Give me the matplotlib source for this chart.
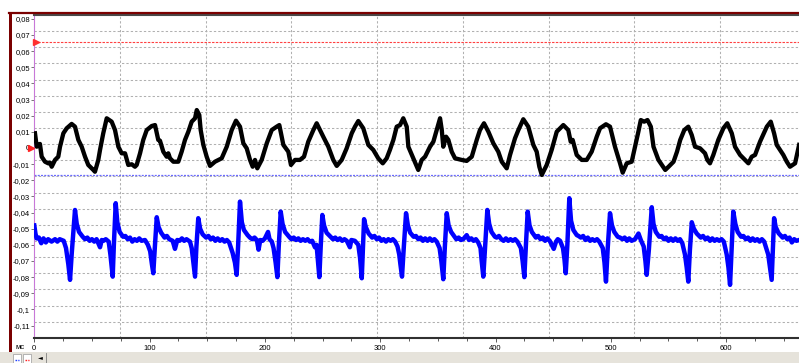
import matplotlib
matplotlib.use("Agg")
import matplotlib.pyplot as plt
from matplotlib.lines import Line2D
from matplotlib.patches import Rectangle
import numpy as np

plt.rcParams['font.family'] = ['Liberation Sans', 'DejaVu Sans']

# black channel (ms, value)
black_trace = [
    (0.6, 0.0091), (2.1, 0.0008), (4.9, 0.0025), (6.4, -0.0054), (9.3, -0.0085),
    (12.1, -0.0095), (13.6, -0.0091), (15.1, -0.0116), (18.0, -0.0074), (20.8, -0.0054),
    (22.3, 0.0008), (25.2, 0.0091), (28.1, 0.0122), (32.4, 0.0149), (35.3, 0.0132),
    (38.2, 0.0050), (41.1, 0.0008), (44.0, -0.0054), (46.8, -0.0105), (51.2, -0.0136),
    (52.6, -0.0147), (55.5, -0.0074), (57.0, -0.0012), (59.8, 0.0091), (62.8, 0.0184),
    (67.1, 0.0163), (70.0, 0.0111), (72.9, 0.0008), (75.8, -0.0033), (78.7, -0.0033),
    (81.5, -0.0105), (84.5, -0.0101), (87.3, -0.0116), (88.8, -0.0105), (91.7, -0.0033),
    (94.5, 0.0050), (97.5, 0.0111), (101.8, 0.0136), (104.7, 0.0142), (107.5, 0.0050),
    (109.0, 0.0045), (111.9, -0.0023), (114.8, -0.0054), (116.2, -0.0033), (117.7, -0.0064),
    (120.6, -0.0085), (124.9, -0.0085), (127.8, -0.0023), (130.7, 0.0050), (133.6, 0.0101),
    (136.5, 0.0163), (139.4, 0.0184), (140.9, 0.0235), (143.1, 0.0204), (144.3, 0.0111),
    (146.6, 0.0019), (149.5, -0.0054), (152.4, -0.0111), (156.7, -0.0085), (162.5, -0.0064),
    (166.9, 0.0008), (171.2, 0.0111), (174.9, 0.0169), (178.4, 0.0132), (181.3, 0.0029),
    (184.2, -0.0002), (187.1, -0.0074), (189.4, -0.0116), (191.4, -0.0074), (193.4, -0.0126),
    (197.2, -0.0074), (201.6, 0.0029), (205.9, 0.0111), (210.2, 0.0132), (212.5, 0.0142),
    (216.0, 0.0019), (220.3, -0.0023), (222.6, -0.0105), (226.1, -0.0074), (230.4, -0.0074),
    (233.9, -0.0054), (237.6, 0.0039), (242.0, 0.0111), (244.9, 0.0153), (250.6, 0.0070),
    (255.0, 0.0008), (259.3, -0.0074), (262.3, -0.0111), (266.6, -0.0074), (270.9, -0.0002),
    (275.3, 0.0091), (278.1, 0.0132), (281.0, 0.0167), (285.3, 0.0122), (289.7, 0.0019),
    (294.0, -0.0012), (298.3, -0.0064), (302.2, -0.0095), (305.6, -0.0064), (308.4, -0.0012),
    (311.4, 0.0050), (314.3, 0.0132), (317.2, 0.0142), (320.0, 0.0184), (323.0, 0.0132),
    (324.4, 0.0008), (328.7, -0.0064), (333.0, -0.0136), (336.0, -0.0074), (338.9, -0.0054),
    (343.2, 0.0008), (346.1, 0.0039), (349.0, 0.0111), (351.9, 0.0184), (353.4, 0.0111),
    (354.7, 0.0008), (357.1, 0.0070), (359.1, 0.0050), (362.0, -0.0023), (364.9, -0.0064),
    (370.7, -0.0074), (375.0, -0.0080), (379.4, -0.0054), (383.7, 0.0050), (386.5, 0.0111),
    (390.0, 0.0153), (393.8, 0.0101), (398.1, 0.0029), (402.4, -0.0023), (405.4, -0.0085),
    (409.7, -0.0126), (412.6, -0.0043), (416.9, 0.0060), (419.8, 0.0111), (424.1, 0.0178),
    (428.4, 0.0132), (432.8, 0.0019), (435.7, -0.0023), (438.0, -0.0116), (440.1, -0.0167),
    (444.4, -0.0105), (448.7, -0.0012), (453.1, 0.0101), (458.8, 0.0142), (463.1, 0.0111),
    (465.2, 0.0039), (466.9, 0.0050), (470.4, -0.0043), (474.8, -0.0074), (479.1, -0.0074),
    (483.4, -0.0023), (487.8, 0.0070), (490.6, 0.0122), (495.8, 0.0147), (499.3, 0.0132),
    (503.6, 0.0008), (508.0, -0.0095), (510.3, -0.0153), (513.8, -0.0095), (518.1, -0.0085),
    (521.0, 0.0008), (523.9, 0.0101), (526.0, 0.0173), (528.9, 0.0163), (531.8, 0.0173),
    (534.7, 0.0132), (537.0, 0.0008), (541.3, -0.0074), (544.3, -0.0105), (547.2, -0.0136),
    (550.1, -0.0116), (554.4, -0.0085), (557.4, -0.0023), (560.2, 0.0050), (563.7, 0.0111),
    (567.2, 0.0132), (570.2, 0.0080), (573.0, 0.0008), (577.4, -0.0002), (581.7, -0.0033),
    (583.7, -0.0074), (586.0, -0.0095), (588.9, -0.0043), (593.2, 0.0050), (597.6, 0.0122),
    (601.0, 0.0153), (604.9, 0.0091), (607.7, 0.0008), (612.1, -0.0043), (616.4, -0.0074),
    (619.3, -0.0095), (622.2, -0.0054), (625.1, -0.0043), (629.4, 0.0039), (635.3, 0.0132),
    (638.7, 0.0163), (641.6, 0.0091), (643.9, 0.0019), (649.6, -0.0043), (652.6, -0.0085),
    (655.4, -0.0116), (659.8, -0.0095), (663.3, 0.0019),
]

# blue channel (ms, value)
blue_trace = [
    (0.0, -0.048), (1.0, -0.053), (2.0, -0.056), (4.0, -0.0555), (6.0, -0.059), (8.0, -0.056),
    (10.0, -0.0585), (12.0, -0.0565), (15.0, -0.058), (18.0, -0.0565), (20.0, -0.058),
    (22.0, -0.0565), (25.5, -0.0575),
    (27.5, -0.062), (29.5, -0.072), (31.0, -0.0817), (32.5, -0.065), (35.3, -0.0384),
    (36.8, -0.047), (38.8, -0.052), (42.0, -0.055), (44.0, -0.0565), (46.0, -0.0555),
    (48.0, -0.0575), (50.0, -0.0565), (52.0, -0.058), (54.0, -0.0565), (57.0, -0.0615),
    (58.5, -0.057), (60.0, -0.0575), (62.0, -0.0565), (64.5, -0.058),
    (66.0, -0.066), (67.0, -0.073), (68.0, -0.0797), (69.0, -0.060), (70.6, -0.0342),
    (72.0, -0.046), (74.0, -0.052), (77.0, -0.055), (79.0, -0.0545), (81.0, -0.0565),
    (83.0, -0.0555), (85.0, -0.058), (87.0, -0.0565), (89.0, -0.0575), (91.0, -0.056),
    (93.0, -0.0575), (96.0, -0.057), (98.5, -0.060), (100.5, -0.064),
    (102.0, -0.072), (103.2, -0.0776), (104.5, -0.062), (106.2, -0.0429), (107.8, -0.049),
    (110.0, -0.0525), (113.0, -0.0555), (115.0, -0.0545), (117.0, -0.0565), (120.0, -0.0575),
    (122.0, -0.0625), (124.0, -0.057), (126.0, -0.0575), (128.0, -0.056), (130.0, -0.0575),
    (132.0, -0.0565), (135.0, -0.058), (136.5, -0.062),
    (138.0, -0.071), (139.4, -0.0797), (140.6, -0.061), (142.2, -0.0435), (143.8, -0.050),
    (146.0, -0.0535), (149.0, -0.0555), (151.0, -0.0545), (153.0, -0.0565), (155.0, -0.0555),
    (157.0, -0.0575), (159.0, -0.056), (161.0, -0.0575), (163.0, -0.0565), (165.0, -0.058),
    (167.0, -0.057), (169.0, -0.0585), (172.0, -0.065), (174.0, -0.071), (175.5, -0.0786),
    (176.8, -0.060), (178.4, -0.0332), (180.0, -0.046), (181.8, -0.0508), (185.0, -0.054),
    (187.0, -0.0555), (189.0, -0.0565), (191.0, -0.0555), (193.0, -0.057), (194.5, -0.063),
    (196.0, -0.057), (198.0, -0.0575), (200.0, -0.056), (202.7, -0.052), (204.0, -0.0565),
    (206.0, -0.058), (207.5, -0.062), (209.3, -0.071),
    (210.8, -0.080), (212.0, -0.061), (213.7, -0.0394), (215.3, -0.047), (217.5, -0.052),
    (221.0, -0.055), (223.0, -0.0565), (225.0, -0.0555), (227.0, -0.057), (229.0, -0.056),
    (231.0, -0.0575), (233.0, -0.0565), (235.0, -0.0575), (237.0, -0.0565), (239.0, -0.058),
    (241.0, -0.0575), (243.4, -0.0615), (244.8, -0.060), (246.0, -0.070), (247.2, -0.080),
    (248.4, -0.061), (249.8, -0.0415), (251.3, -0.048), (253.5, -0.0525), (257.0, -0.055),
    (259.0, -0.0565), (261.0, -0.0555), (263.0, -0.057), (265.0, -0.056), (267.0, -0.0575),
    (269.0, -0.0565), (271.0, -0.0575), (273.7, -0.0615), (275.0, -0.057),
    (278.0, -0.0575), (281.0, -0.060), (282.5, -0.068), (284.0, -0.0807), (285.0, -0.062),
    (286.0, -0.0441), (287.5, -0.049), (290.0, -0.053), (293.0, -0.0555), (295.0, -0.0545),
    (297.0, -0.0565), (299.0, -0.0555), (301.0, -0.0575), (303.0, -0.0565), (305.0, -0.058),
    (307.0, -0.0565), (309.0, -0.0575), (311.0, -0.0565), (313.0, -0.058), (315.0, -0.061),
    (316.5, -0.066), (317.5, -0.072), (318.9, -0.0797), (320.5, -0.061), (322.4, -0.0404),
    (324.0, -0.048), (326.0, -0.0525), (329.0, -0.055), (331.0, -0.0545), (333.0, -0.0565),
    (335.0, -0.0555), (337.0, -0.0575), (339.0, -0.056), (341.0, -0.0575), (343.0, -0.056),
    (345.0, -0.0575), (347.0, -0.0565), (349.0, -0.058), (351.5, -0.062), (353.0, -0.070),
    (354.7, -0.0813), (356.0, -0.062), (357.7, -0.0404), (359.3, -0.048), (361.5, -0.052),
    (364.5, -0.055), (366.0, -0.0565), (368.0, -0.0555), (370.0, -0.057), (372.0, -0.0565),
    (375.0, -0.054), (377.0, -0.057), (379.0, -0.056),
    (381.0, -0.0575), (383.0, -0.0565), (385.0, -0.0585), (387.0, -0.062), (388.0, -0.070),
    (389.4, -0.0797), (391.0, -0.061), (392.9, -0.0384), (394.5, -0.047), (396.5, -0.052),
    (399.5, -0.055), (401.0, -0.0555), (403.0, -0.0545), (405.0, -0.0565), (407.0, -0.0575),
    (409.0, -0.056), (411.0, -0.0575), (413.0, -0.0565), (415.0, -0.0575), (417.0, -0.0565),
    (419.0, -0.058), (422.0, -0.062), (423.5, -0.070), (425.0, -0.080), (426.3, -0.061),
    (427.9, -0.0394), (429.5, -0.048), (431.5, -0.052), (435.0, -0.0555), (437.0, -0.0545),
    (439.0, -0.0565), (441.0, -0.0555), (443.0, -0.0575), (445.0, -0.056), (447.0, -0.0575),
    (450.5, -0.0625), (452.5, -0.058), (454.0, -0.0565), (456.0, -0.0575), (458.5, -0.062),
    (459.8, -0.069), (460.9, -0.0776), (462.3, -0.060), (464.0, -0.0311), (465.5, -0.045),
    (467.5, -0.0508), (470.5, -0.054), (472.0, -0.0545), (474.0, -0.0555), (476.0, -0.0545),
    (478.0, -0.057), (480.0, -0.0555), (482.0, -0.0575), (484.0, -0.0565), (486.0, -0.0575),
    (488.0, -0.0565), (490.0, -0.058), (493.0, -0.062), (494.5, -0.071), (495.8, -0.0828),
    (497.3, -0.062), (499.3, -0.0404), (501.0, -0.048), (503.0, -0.052), (506.0, -0.055),
    (508.0, -0.0555), (510.0, -0.0565), (512.0, -0.0555), (514.0, -0.0575), (516.0, -0.056),
    (518.0, -0.0575), (521.0, -0.0565), (524.0, -0.053),
    (526.0, -0.057), (528.5, -0.061), (530.0, -0.070), (531.1, -0.0786), (533.0, -0.063),
    (535.5, -0.0367), (537.0, -0.047), (539.0, -0.052), (542.0, -0.055), (544.0, -0.0545),
    (546.0, -0.0565), (548.0, -0.0555), (550.0, -0.0575), (552.0, -0.056), (554.0, -0.0575),
    (556.0, -0.056), (558.0, -0.0575), (560.0, -0.0565), (562.0, -0.059), (564.3, -0.066),
    (565.8, -0.074), (567.2, -0.0828), (568.6, -0.063), (570.2, -0.046), (572.0, -0.050),
    (574.5, -0.053), (578.0, -0.0555), (580.0, -0.0545), (582.0, -0.0565), (584.0, -0.0555),
    (586.0, -0.0575), (588.0, -0.056), (590.0, -0.0575), (592.0, -0.0565), (594.0, -0.0575),
    (596.0, -0.0565), (598.0, -0.058), (600.5, -0.066), (602.0, -0.074), (603.4, -0.0848),
    (604.8, -0.062), (606.2, -0.0394), (608.0, -0.047), (610.0, -0.052), (613.0, -0.055),
    (615.0, -0.0545), (617.0, -0.0565), (619.0, -0.0555), (621.0, -0.0575), (623.0, -0.056),
    (625.0, -0.0575), (627.0, -0.0565), (629.0, -0.058), (631.0, -0.0565), (633.0, -0.058),
    (636.5, -0.066), (638.0, -0.074), (639.5, -0.0817), (640.5, -0.063), (641.6, -0.0435),
    (643.0, -0.049), (645.5, -0.0528), (649.0, -0.0555), (651.0, -0.0545), (653.0, -0.0565),
    (655.0, -0.0555), (657.0, -0.0585), (659.0, -0.0565), (661.0, -0.0575), (663.3, -0.057),
]

red_level = 0.0655
blue_level = -0.0169
y_ticks = [round(k * 0.01, 2) for k in range(-11, 9)]
x_ticks = [0, 100, 200, 300, 400, 500, 600]

W, H = 799, 363
fig = plt.figure(figsize=(W / 100, H / 100), dpi=100)
fig.patch.set_facecolor('white')


def fx(px):
    return px / W


def fy(py):
    return 1 - py / H


ax = fig.add_axes([fx(34.3), fy(337.5), 1 - fx(34.3), fy(14) - fy(337.5)])
ax.set_xlim(0, 663.2)
ax.set_ylim(-0.1174, 0.0830)

# grid (the recorder draws it slightly off the ticks)
grid_kw = dict(color='#b0b0b0', lw=0.75, dashes=(2.2, 2.0), zorder=1)
for k in range(-11, 8):
    ax.axhline(k * 0.01 + 0.0024, **grid_kw)
for i in range(1, 9):
    ax.axvline(i * 74.35, **grid_kw)

ax.axhline(red_level, color='#ff4040', lw=0.8, dashes=(2.2, 1.2), zorder=2)
ax.axhline(blue_level, color='#6a6aff', lw=0.9, dashes=(1.6, 1.0), zorder=2)

bt, bv = zip(*blue_trace)
kt, kv = zip(*black_trace)
ax.plot(bt, bv, color='#0000ff', lw=3.2, solid_joinstyle='round', zorder=3)
ax.plot(kt, kv, color='black', lw=3.1, solid_joinstyle='round', zorder=4)

ax.plot([1.8], [red_level], marker='>', ms=4, color='#ff3030', clip_on=False, zorder=5)
ax.plot([-2.9], [0], marker='>', ms=4, color='#ff2020', clip_on=False, zorder=5)

ax.set_yticks(y_ticks)
ax.set_yticklabels(['0' if v == 0 else f"{v:g}".replace('.', ',') for v in y_ticks])
ax.set_xticks(x_ticks)
ax.set_xticklabels([str(v) for v in x_ticks])
ax.set_xticks(np.arange(0, 663, 25), minor=True)
ax.tick_params(axis='y', direction='out', length=2, width=0.6, color='#606060',
               labelsize=5.5, pad=1)
ax.tick_params(axis='x', which='major', direction='out', length=3, width=0.6,
               color='#404040', labelsize=5.5, pad=2.5)
ax.tick_params(axis='x', which='minor', direction='out', length=2, width=0.6, color='#404040')

for s in ['top', 'right']:
    ax.spines[s].set_visible(False)
ax.spines['left'].set_color('#c878d8')
ax.spines['left'].set_linewidth(0.8)
ax.spines['bottom'].set_color('#303030')
ax.spines['bottom'].set_linewidth(1.5)

# window frame
fig.add_artist(Line2D([fx(34.3), 1], [fy(15), fy(15)], color='#4a4a4a', lw=1.5))
fig.add_artist(Line2D([fx(9), 1], [fy(12.6), fy(12.6)], color='#7a0000', lw=1.6))
fig.add_artist(Rectangle((fx(9), fy(352)), 3 / W, 340 / H, color='#7a0000', lw=0))

# bottom bar with buttons
fig.add_artist(Rectangle((0, 0), 1, 11 / H, color='#e6e3db', lw=0))
for x0, c in [(13, '#2040ff'), (23, '#ff2020')]:
    fig.add_artist(Rectangle((fx(x0), fy(363)), 8 / W, 9 / H, facecolor='white',
                             edgecolor='#9a9a9a', lw=0.5))
    fig.add_artist(Line2D([fx(x0 + 2), fx(x0 + 6)], [fy(360), fy(360)], color=c, lw=1.0,
                          dashes=(1.2, 0.8)))
fig.text(fx(40), fy(357.5), '\u25c4', fontsize=4.5, ha='center', va='center',
         family=['DejaVu Sans'])
fig.add_artist(Line2D([fx(45.5), fx(45.5)], [fy(353), 0], color='#808080', lw=0.6))

fig.text(fx(15), fy(347.5), 'мс', fontsize=5.5, ha='left', va='center')

fig.savefig('out.png', dpi=100)
